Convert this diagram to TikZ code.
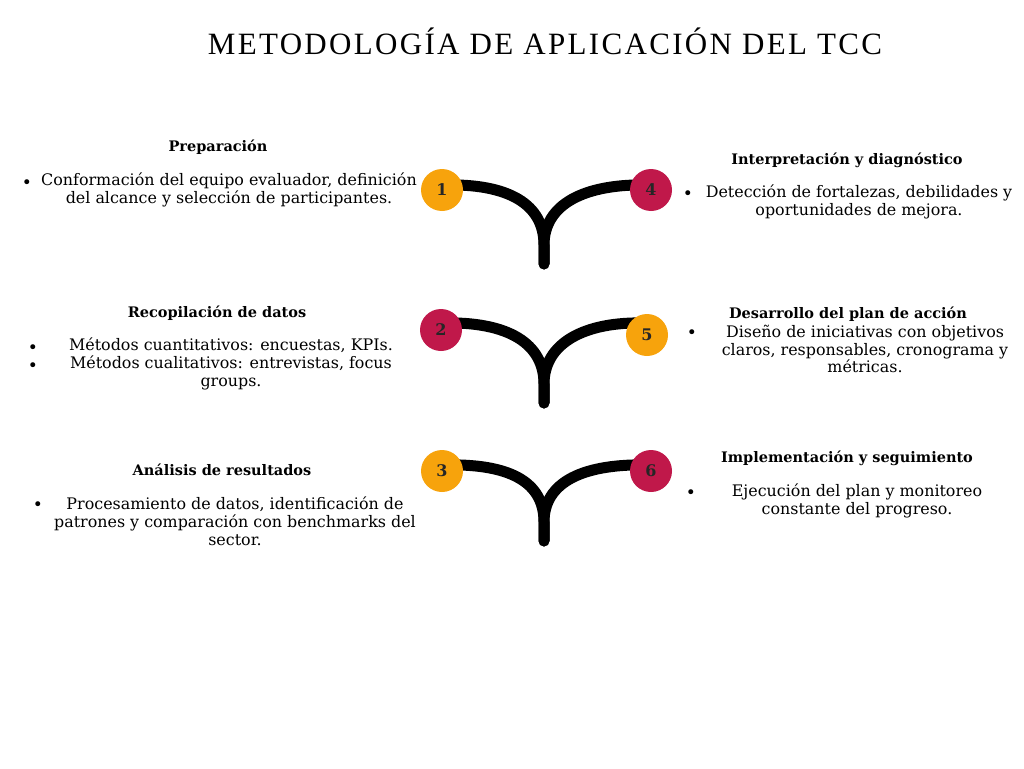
\documentclass[tikz,border=0pt]{standalone}
\usepackage{fontspec}
\setmainfont{DejaVu Serif}
\newfontfamily\titlefont[LetterSpace=7.5]{Liberation Serif}
\usetikzlibrary{positioning}

\definecolor{tccorange}{RGB}{247,163,12}
\definecolor{tccred}{RGB}{192,24,74}

\begin{document}
\begin{tikzpicture}[x=1pt,y=-1pt]

\tikzset{
numdot/.style={circle,minimum size=42pt,inner sep=0pt,text=black!85,font=\bfseries\fontsize{16}{16}\selectfont},
orangedot/.style={numdot,fill=tccorange},
reddot/.style={numdot,fill=tccred},
arcline/.style={line width=11pt,line cap=round,draw=black},
heading/.style={inner sep=0pt,font=\bfseries\fontsize{14.5}{16}\selectfont},
bodytext/.style={inner sep=0pt,align=center,font=\fontsize{15.9}{17.8}\selectfont},
bulletmark/.style={inner sep=0pt,font=\fontsize{17}{17}\selectfont}
}

\useasboundingbox (0,0) rectangle (1024,768);

% Title
\node (title) at (545,41) {\titlefont\fontsize{31}{31}\selectfont METODOLOGÍA DE APLICACIÓN DEL TCC};

% Points
\coordinate (p1) at (442,190);
\coordinate (p4) at (651,190);
\coordinate (p2) at (441,330);
\coordinate (p5) at (647,335);
\coordinate (p3) at (442,471);
\coordinate (p6) at (651,471);

\coordinate (b1) at (544,264);
\coordinate (b2) at (544,403);
\coordinate (b3) at (544,541);

% Arcs
\draw[arcline] (p1) ++(0,-5) .. controls +(68,-2) and (544,205) .. (544,245) -- (b1);
\draw[arcline] (p4) ++(0,-5) .. controls +(-68,-2) and (544,205) .. (544,245) -- (b1);
\draw[arcline] (p2) ++(0,-7) .. controls +(68,-2) and (544,344) .. (544,384) -- (b2);
\draw[arcline] (p5) ++(0,-12) .. controls +(-64,-2) and (544,344) .. (544,384) -- (b2);
\draw[arcline] (p3) ++(0,-6) .. controls +(68,-2) and (544,482) .. (544,522) -- (b3);
\draw[arcline] (p6) ++(0,-6) .. controls +(-68,-2) and (544,482) .. (544,522) -- (b3);

% Circles
\node[orangedot] (n1) at (p1) {1};
\node[reddot] (n4) at (p4) {4};
\node[reddot] (n2) at (p2) {2};
\node[orangedot] (n5) at (p5) {5};
\node[orangedot] (n3) at (p3) {3};
\node[reddot] (n6) at (p6) {6};

% Left labels
\node[heading] (h1) at (218,147) {Preparación};
\node[bodytext] (t1) at (229,190) {Conformación del equipo evaluador, definición\\del alcance y selección de participantes.};
\node[bulletmark] (m1) at (27,184) {\textbullet};

\node[heading] (h2) at (217,313) {Recopilación de datos};
\node[bodytext] (t2) at (231,364) {Métodos cuantitativos: encuestas, KPIs.\\Métodos cualitativos: entrevistas, focus\\groups.};
\node[bulletmark] (m2a) at (33,349) {\textbullet};
\node[bulletmark] (m2b) at (33,367) {\textbullet};

\node[heading] (h3) at (222,470) {Análisis de resultados};
\node[bodytext] (t3) at (235,521) {Procesamiento de datos, identificación de\\patrones y comparación con benchmarks del\\sector.};
\node[bulletmark] (m3) at (38,506) {\textbullet};

% Right labels
\node[heading] (h4) at (847,160) {Interpretación y diagnóstico};
\node[bodytext] (t4) at (859,202) {Detección de fortalezas, debilidades y\\oportunidades de mejora.};
\node[bulletmark] (m4) at (688,195) {\textbullet};

\node[heading] (h5) at (848,314) {Desarrollo del plan de acción};
\node[bodytext] (t5) at (865,349) {Diseño de iniciativas con objetivos\\claros, responsables, cronograma y\\métricas.};
\node[bulletmark] (m5) at (692,334) {\textbullet};

\node[heading] (h6) at (847,458) {Implementación y seguimiento};
\node[bodytext] (t6) at (857,501) {Ejecución del plan y monitoreo\\constante del progreso.};
\node[bulletmark] (m6) at (691,494) {\textbullet};

\end{tikzpicture}
\end{document}
